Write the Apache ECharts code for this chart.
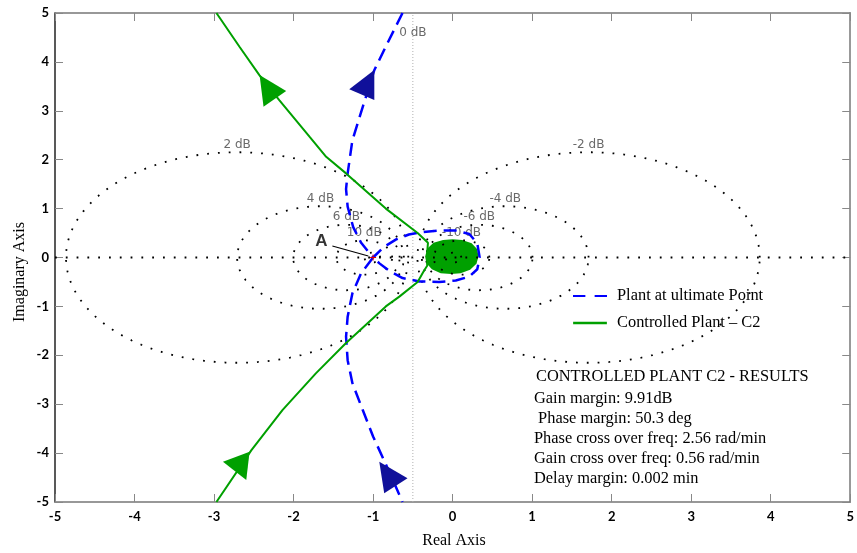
<!DOCTYPE html>
<html>
<head>
<meta charset="utf-8">
<script src="https://cdn.jsdelivr.net/npm/echarts@6/dist/echarts.min.js"></script>
<style>html,body{margin:0;padding:0;background:#fff}#c{width:857px;height:553px}</style>
</head>
<body>
<div id="c"></div>
<script>
// ---------- data ----------
const axisMin = -5, axisMax = 5, axisStep = 1;
const mCircleDb = [2, -2, 4, -4, 6, -6, 10, -10, 20, -20];
const mLabelDb = [2, -2, 4, -4, 6, -6, 10, -10];
const zeroDbLabel = { text: '0 dB', at: [-0.5, 4.6] };

const blueName = 'Plant at ultimate Point';
const greenName = 'Controlled Plant \u2013 C2';

const blueUpper = [[-0.63,5.0],[-0.82,4.38],[-0.985,3.83],[-1.13,3.08],[-1.26,2.40],[-1.32,1.72],[-1.34,1.40],[-1.32,1.04],[-1.25,0.62],[-1.15,0.30],[-1.0,0.0]];
const blueLoop = [[-1.0,0.0],[-0.86,0.22],[-0.71,0.37],[-0.55,0.47],[-0.38,0.52],[-0.17,0.55],[0.04,0.55],[0.21,0.48],[0.31,0.29],[0.34,0.0],[0.31,-0.24],[0.21,-0.39],[0.04,-0.47],[-0.17,-0.50],[-0.42,-0.49],[-0.63,-0.42],[-0.80,-0.27],[-0.92,-0.12],[-1.0,0.0]];
const blueLower = [[-1.0,0.0],[-1.15,-0.32],[-1.26,-0.73],[-1.32,-1.21],[-1.34,-1.62],[-1.32,-2.10],[-1.26,-2.57],[-1.13,-3.12],[-1.0,-3.66],[-0.82,-4.3],[-0.63,-5.0]];

const greenUpper = [[-2.97,5.0],[-2.68,4.31],[-2.43,3.73],[-2.18,3.22],[-1.80,2.47],[-1.59,2.06],[-1.34,1.72],[-0.84,1.00],[-0.44,0.50],[-0.31,0.30],[-0.32,0.10]];
const greenLower = [[-0.32,-0.17],[-0.36,-0.27],[-0.44,-0.50],[-0.67,-0.80],[-0.84,-1.0],[-1.34,-1.75],[-1.72,-2.37],[-2.14,-3.12],[-2.53,-3.94],[-2.97,-5.0]];
const greenBlob = [[-0.345,0.02],[-0.32,0.18],[-0.24,0.30],[-0.12,0.36],[0.0,0.372],[0.12,0.36],[0.24,0.29],[0.31,0.17],[0.325,0.02],[0.30,-0.13],[0.22,-0.25],[0.10,-0.32],[-0.02,-0.337],[-0.15,-0.32],[-0.26,-0.24],[-0.33,-0.12]];

const blueArrowHeads = [[-0.985,3.834,-0.985,3.221,-1.30,3.44],[-0.922,-4.175,-0.86,-4.82,-0.567,-4.515]];
const greenArrowHeads = [[-2.428,3.732,-2.378,3.084,-2.093,3.405],[-2.888,-4.176,-2.553,-3.971,-2.595,-4.55]];

const criticalPoint = [[-1, 0]];
const annotA = { text: 'A', at: [-1.65, 0.337], from: [-1.512, 0.235], to: [-1.06, 0.03] };

const resultsTitle = 'CONTROLLED PLANT C2 - RESULTS';
const resultsLines = ['Gain margin: 9.91dB', ' Phase margin: 50.3 deg', 'Phase cross over freq: 2.56 rad/min', 'Gain cross over freq: 0.56 rad/min', 'Delay margin: 0.002 min'];

// ---------- build ----------
function mCircle(db) {
  const M = Math.pow(10, db / 20), M2 = M * M;
  return { cx: -M2 / (M2 - 1), r: Math.abs(M / (M2 - 1)) };
}
function circlePoints(db) {
  const c = mCircle(db), pts = [];
  for (let i = 0; i <= 360; i++) {
    const t = i / 360 * 2 * Math.PI;
    pts.push([c.cx + c.r * Math.cos(t), c.r * Math.sin(t)]);
  }
  return pts;
}
const serif = 'Liberation Serif, Times New Roman, serif';
const dotStyle = { color: '#000', width: 1.8, type: [1.8, 9] };

const series = [];
series.push({
  type: 'custom', name: 'blob', z: 1, silent: true,
  data: greenBlob, encode: { x: 0, y: 1 },
  renderItem: function (params, api) {
    if (params.dataIndex !== 0) return null;
    const pts = greenBlob.map(p => api.coord(p));
    return { type: 'polygon', shape: { points: pts }, style: { fill: '#00a000' } };
  }
});
mCircleDb.forEach(db => {
  series.push({ type: 'line', name: 'm' + db, z: 2, silent: true, symbol: 'none', data: circlePoints(db), lineStyle: dotStyle });
});
series.push({ type: 'line', name: 'real', z: 2, silent: true, symbol: 'none', data: [[axisMin, 0], [axisMax, 0]], lineStyle: dotStyle });
series.push({ type: 'line', name: 'zero', z: 2, silent: true, symbol: 'none', data: [[-0.5, axisMin], [-0.5, axisMax]], lineStyle: { color: '#b0b0b0', width: 1, type: [1, 2] } });
const labelData = mLabelDb.map(db => { const c = mCircle(db); return { name: db + ' dB', value: [c.cx, c.r] }; });
series.push({
  type: 'scatter', name: 'mlabels', z: 3, silent: true, symbolSize: 1, itemStyle: { color: 'rgba(0,0,0,0)' },
  data: labelData,
  label: { show: true, position: 'top', distance: 1, formatter: p => p.name, color: '#444', fontFamily: 'DejaVu Sans', fontSize: 12 }
});
series.push({
  type: 'scatter', name: 'zlabel', z: 3, silent: true, symbolSize: 1, itemStyle: { color: 'rgba(0,0,0,0)' },
  data: [{ name: zeroDbLabel.text, value: zeroDbLabel.at }],
  label: { show: true, position: 'inside', formatter: p => p.name, color: '#444', fontFamily: 'DejaVu Sans', fontSize: 12 }
});
series.push({
  type: 'line', name: blueName, z: 4, symbol: 'none',
  data: blueUpper.concat(blueLoop.slice(1), blueLower.slice(1)),
  lineStyle: { color: '#0000ff', width: 2.5, type: [13, 7] },
  itemStyle: { color: '#0000ff' }
});
series.push({
  type: 'line', name: greenName, z: 5, symbol: 'none',
  data: greenUpper.concat(greenLower),
  lineStyle: { color: '#00a000', width: 2 },
  itemStyle: { color: '#00a000' }
});
function arrowSeries(name, data, fill) {
  return {
    type: 'custom', name: name, z: 6, silent: true, data: data,
    encode: { x: [0, 2, 4], y: [1, 3, 5] },
    renderItem: function (params, api) {
      const pts = [[api.value(0), api.value(1)], [api.value(2), api.value(3)], [api.value(4), api.value(5)]].map(p => api.coord(p));
      return { type: 'polygon', shape: { points: pts }, style: { fill: fill } };
    }
  };
}
series.push(arrowSeries('barrows', blueArrowHeads, '#10109a'));
series.push(arrowSeries('garrows', greenArrowHeads, '#00a000'));
series.push({
  type: 'custom', name: 'crit', z: 7, silent: true, data: criticalPoint, encode: { x: 0, y: 1 },
  renderItem: function (params, api) {
    const p = api.coord([api.value(0), api.value(1)]);
    return { type: 'group', children: [
      { type: 'line', shape: { x1: p[0] - 3, y1: p[1], x2: p[0] + 3, y2: p[1] }, style: { stroke: '#e00000', lineWidth: 1 } },
      { type: 'line', shape: { x1: p[0], y1: p[1] - 3, x2: p[0], y2: p[1] + 3 }, style: { stroke: '#e00000', lineWidth: 1 } }
    ] };
  }
});
series.push({
  type: 'scatter', name: 'annA', z: 7, silent: true, symbolSize: 1, itemStyle: { color: 'rgba(0,0,0,0)' },
  data: [{ name: annotA.text, value: annotA.at }],
  label: { show: true, position: 'inside', formatter: p => p.name, color: '#000', fontFamily: 'Liberation Sans', fontWeight: 'bold', fontSize: 17 },
  markLine: {
    silent: true, symbol: ['none', 'arrow'], symbolSize: [0, 8], animation: false,
    lineStyle: { color: '#000', width: 1.1, type: 'solid' }, label: { show: false },
    data: [[{ coord: annotA.from }, { coord: annotA.to }]]
  }
});

const tickFont = { color: '#000', fontFamily: 'Lato', fontWeight: 'bold', fontSize: 13 };
const option = {
  animation: false,
  backgroundColor: '#fff',
  grid: { left: 55, right: 5, top: 13, bottom: 51 },
  legend: {
    data: [
      { name: blueName, icon: 'path://M0,0H12V2H0ZM21,0H33V2H21Z' },
      { name: greenName, icon: 'path://M2,0H29V2H2Z' }
    ],
    orient: 'vertical', left: 568, top: 282,
    itemWidth: 34, itemHeight: 2.5, itemGap: 9, selectedMode: false,
    textStyle: { fontFamily: serif, fontSize: 16.4, lineHeight: 18, color: '#000', padding: [0, 0, 0, 5] }
  },
  xAxis: [
    { type: 'value', min: axisMin, max: axisMax, interval: axisStep, position: 'bottom',
      axisLine: { show: true, onZero: false, lineStyle: { color: '#777', width: 1.5 } },
      axisTick: { show: true, inside: true, length: 8, lineStyle: { color: '#888' } },
      axisLabel: Object.assign({ margin: 8 }, tickFont), splitLine: { show: false } },
    { type: 'value', min: axisMin, max: axisMax, interval: axisStep, position: 'top',
      axisLine: { show: true, onZero: false, lineStyle: { color: '#777', width: 1.5 } },
      axisTick: { show: true, inside: true, length: 8, lineStyle: { color: '#888' } },
      axisLabel: { show: false }, splitLine: { show: false } }
  ],
  yAxis: [
    { type: 'value', min: axisMin, max: axisMax, interval: axisStep, position: 'left',
      axisLine: { show: true, onZero: false, lineStyle: { color: '#222', width: 1.5 } },
      axisTick: { show: true, inside: true, length: 8, lineStyle: { color: '#888' } },
      axisLabel: Object.assign({ margin: 6 }, tickFont), splitLine: { show: false } },
    { type: 'value', min: axisMin, max: axisMax, interval: axisStep, position: 'right',
      axisLine: { show: true, onZero: false, lineStyle: { color: '#777', width: 1.5 } },
      axisTick: { show: true, inside: true, length: 8, lineStyle: { color: '#888' } },
      axisLabel: { show: false }, splitLine: { show: false } }
  ],
  graphic: [
    { type: 'text', left: 536, top: 369, style: { text: resultsTitle, font: '16.4px ' + serif, fill: '#000' } },
    { type: 'text', left: 534, top: 389, style: { text: resultsLines.join('\n'), font: '16.4px ' + serif, fill: '#000', lineHeight: 20 } },
    { type: 'text', x: 454, y: 541, style: { text: 'Real Axis', font: '16px ' + serif, fill: '#000', align: 'center', verticalAlign: 'middle' } },
    { type: 'text', x: 20, y: 272, rotation: Math.PI / 2, style: { text: 'Imaginary Axis', font: '16px ' + serif, fill: '#000', align: 'center', verticalAlign: 'middle' } }
  ],
  series: series
};
const chart = echarts.init(document.getElementById('c'), null, { renderer: 'canvas' });
chart.setOption(option);
</script>
</body>
</html>
